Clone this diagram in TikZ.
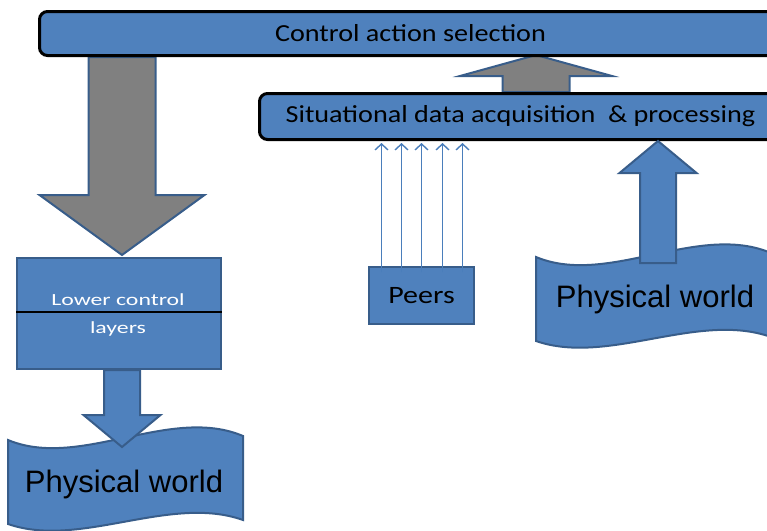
\documentclass[tikz,border=0pt]{standalone}
\usepackage{fontspec}
\setmainfont{Carlito}
\newfontfamily\labelfont[FakeStretch=1.15]{Carlito}
\newfontfamily\peersfont[FakeStretch=1.2]{Carlito}
\newfontfamily\layerfont[FakeStretch=1.4]{Carlito}
\newfontfamily\worldfont{Liberation Sans}
\usetikzlibrary{calc,arrows.meta,backgrounds}

\definecolor{boxblue}{HTML}{4F81BD}
\definecolor{edgeblue}{HTML}{385D8A}
\definecolor{linkblue}{HTML}{4A7EBB}
\definecolor{arrowgray}{HTML}{808080}

\tikzset{
  panel/.style={draw=black, line width=3pt, fill=boxblue, rounded corners=8pt,
    inner sep=0pt, font=\labelfont\fontsize{24.5}{29}\selectfont},
  block/.style={draw=edgeblue, line width=2pt, fill=boxblue, inner sep=0pt},
  world/.style={draw=edgeblue, line width=2pt, fill=boxblue},
  worldtext/.style={font=\worldfont\fontsize{31}{36}\selectfont, anchor=base},
  layertext/.style={font=\layerfont\fontsize{17}{20}\selectfont, text=white, anchor=base},
  graybody/.style={draw=edgeblue, line width=2pt, fill=arrowgray},
  bluebody/.style={draw=edgeblue, line width=2pt, fill=boxblue},
  link/.style={draw=linkblue, line width=1.4pt, -{Straight Barb[length=6pt,width=13pt]}},
  % vertical block arrow: {shaft half width}{head half width}{head length}
  block arrow/.style n args={3}{to path={
    let \p1=(\tikztostart), \p2=(\tikztotarget), \n1={(\y2>\y1)*2-1} in
    ({\x2-#1pt},\y1) -- ({\x2-#1pt},{\y2-(\n1)*(#3pt)}) -- ({\x2-#2pt},{\y2-(\n1)*(#3pt)})
    -- (\x2,\y2) -- ({\x2+#2pt},{\y2-(\n1)*(#3pt)}) -- ({\x2+#1pt},{\y2-(\n1)*(#3pt)})
    -- ({\x2+#1pt},\y1) -- cycle}},
}

\begin{document}
\begin{tikzpicture}[x=1pt,y=-1pt]
\useasboundingbox (0,0) rectangle (767,530);

% main blocks (they run on past the right edge)
\node[panel, anchor=north west, minimum width=742pt, minimum height=44pt] (ctrl) at (38,10)
  {Control action selection};
\node[panel, anchor=north west, minimum width=522pt, minimum height=46pt] (sit) at (258,92)
  {Situational data acquisition~ \& processing};
\node[block, anchor=north west, minimum width=204pt, minimum height=111pt] (lower) at (16,257) {};
\node[block, anchor=north west, minimum width=105pt, minimum height=57pt,
  font=\peersfont\fontsize{25}{30}\selectfont] (peers) at (368,266) {Peers};

% divided lower control block
\coordinate (sepy) at (0,312);
\draw[line width=2.5pt] (lower.west |- sepy) -- (lower.east |- sepy);
\node[layertext] (lowtop) at (118,305) {Lower control};
\node[layertext] (lowbot) at (118,333) {layers};

% physical world banners
\path[world] (8,440) .. controls (80,470) and (170,405) .. (243,436)
  -- (243,520) .. controls (170,494) and (80,549) .. (8,524) -- cycle;
\begin{scope}[shift={(528,-183)}]
\path[world] (8,440) .. controls (80,470) and (170,405) .. (243,436)
  -- (243,520) .. controls (170,494) and (80,549) .. (8,524) -- cycle;
\end{scope}

% arrow end points
\coordinate (downtip) at (122,255);
\coordinate (uptip) at (536,55);
\coordinate (lowtip) at (122,447);
\coordinate (risebase) at (658,263);

% gray block arrows behind the panels
\begin{pgfonlayer}{background}
\draw[graybody, block arrow={33.5}{82.5}{60}] (ctrl.south -| downtip) to (downtip);
\draw[graybody, block arrow={33.5}{76}{21}] (sit.north -| uptip) to (uptip);
\end{pgfonlayer}

% blue block arrows
\draw[bluebody, block arrow={18}{38.5}{32}] (lower.south -| lowtip) to (lowtip);
\draw[bluebody, block arrow={18}{38.5}{32}] (risebase) to (sit.south -| risebase);

% peer links
\foreach \o in {-40,-20,0,21,41}
  \draw[link] ($(peers.north)+(\o,6)$) -- ($(peers.north |- sit.south)+(\o,2)$);

\node[worldtext] (pwl) at (124,492) {Physical world};
\node[worldtext] (pwr) at (655,307) {Physical world};
\end{tikzpicture}
\end{document}
